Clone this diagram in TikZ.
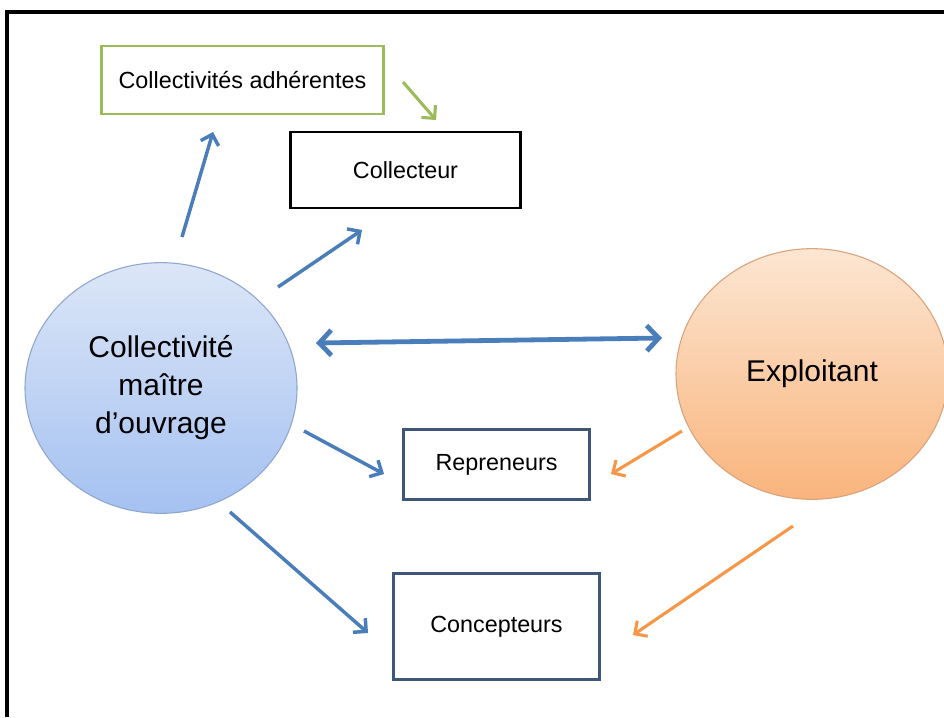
\documentclass[tikz,border=0pt]{standalone}
\usepackage{fontspec}
\setmainfont{Liberation Sans}
\usetikzlibrary{arrows.meta,shapes.geometric}
\definecolor{ablue}{HTML}{4A7EBB}
\definecolor{aorange}{HTML}{F79646}
\definecolor{agreen}{HTML}{9BBB59}
\definecolor{slate}{HTML}{3E5679}
\definecolor{bluetop}{HTML}{DCE6F7}
\definecolor{bluebot}{HTML}{A4C1F1}
\definecolor{blueedge}{HTML}{8EA6CF}
\definecolor{orantop}{HTML}{FCE6D2}
\definecolor{oranbot}{HTML}{F9B47C}
\definecolor{oranedge}{HTML}{D9A27A}
\tikzset{
  lbl/.style={font=\fontsize{17.5pt}{21pt}\selectfont, inner sep=0pt},
  boxg/.style={lbl, draw=agreen, line width=2.2pt},
  boxk/.style={lbl, draw=black, line width=2.2pt},
  boxs/.style={lbl, draw=slate, line width=2.2pt},
  bigc/.style={ellipse, inner sep=0pt, align=center, line width=0.8pt,
    minimum width=204pt, minimum height=188pt,
    font=\fontsize{22.5pt}{28.5pt}\selectfont},
  barrow/.style={draw=ablue, line width=2.6pt, -{Straight Barb[length=7pt,width=14pt]}},
  oarrow/.style={draw=aorange, line width=2.3pt, -{Straight Barb[length=7pt,width=14pt]}},
  garrow/.style={draw=agreen, line width=2.3pt, -{Straight Barb[length=7pt,width=14pt]}},
  darrow/.style={draw=ablue, line width=3.6pt, {Straight Barb[length=9pt,width=19pt]}-{Straight Barb[length=9pt,width=19pt]}},
}
\begin{document}
\begin{tikzpicture}[x=0.75pt,y=-0.75pt]
\useasboundingbox (0,0) rectangle (944,717);
\fill[white] (0,0) rectangle (944,717);
% circles
\node[bigc, draw=blueedge, top color=bluetop, bottom color=bluebot] (maitre) at (161,388)
  {Collectivit\'e\\ma\^itre\\d\textquoteright ouvrage};
\node[bigc, draw=oranedge, top color=orantop, bottom color=oranbot] (expl) at (812,374) {Exploitant};
% frame
\coordinate (fbl) at (7,717);
\coordinate (ftl) at (7,12);
\coordinate (ftr) at (944,12);
\draw[line width=2.3pt] (fbl) -- (ftl) -- (ftr);
% boxes
\node[boxg, minimum width=212pt, minimum height=51pt] (adh) at (242.5,80) {Collectivit\'es adh\'erentes};
\node[boxk, minimum width=173pt, minimum height=57pt] (coll) at (405.5,170) {Collecteur};
\node[boxs, minimum width=140pt, minimum height=52pt] (rep) at (496.5,464.5) {Repreneurs};
\node[boxs, minimum width=154pt, minimum height=80pt] (conc) at (496.5,626.5) {Concepteurs};
% arrow end points
\coordinate (a1s) at (182,237);  \coordinate (a1e) at (213,132);
\coordinate (a2s) at (278,287);  \coordinate (a2e) at (362,230);
\coordinate (a3s) at (316,343);  \coordinate (a3e) at (662,338);
\coordinate (a4s) at (304,431);  \coordinate (a4e) at (384,474);
\coordinate (a5s) at (230,512);  \coordinate (a5e) at (368,633);
\coordinate (a6s) at (682,431);  \coordinate (a6e) at (611,474);
\coordinate (a7s) at (793,526);  \coordinate (a7e) at (633,635);
\coordinate (a8s) at (403,82);   \coordinate (a8e) at (436,120);
% arrows
\draw[barrow] (a1s) -- (a1e);
\draw[barrow] (a2s) -- (a2e);
\draw[darrow] (a3s) -- (a3e);
\draw[barrow] (a4s) -- (a4e);
\draw[barrow] (a5s) -- (a5e);
\draw[oarrow] (a6s) -- (a6e);
\draw[oarrow] (a7s) -- (a7e);
\draw[garrow] (a8s) -- (a8e);
\end{tikzpicture}
\end{document}
